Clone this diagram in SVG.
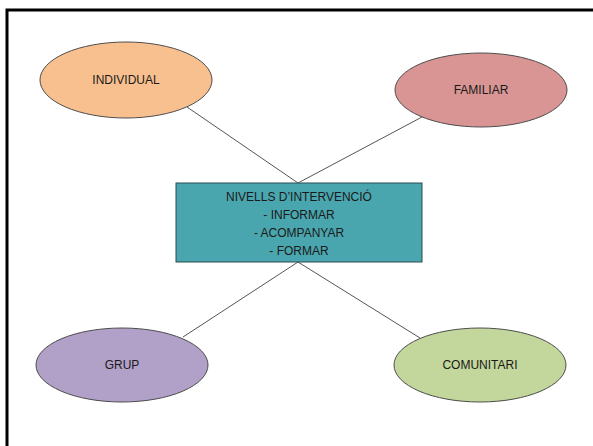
<svg xmlns="http://www.w3.org/2000/svg" width="593" height="446" viewBox="0 0 593 446">
<style>
.n{stroke:#4d4d4d;stroke-width:1}
.t{font-family:"Liberation Sans",Arial,sans-serif;font-size:12px;fill:#1a1a1a;text-anchor:middle;dominant-baseline:central}
.c{stroke:#555;stroke-width:1;fill:none}
</style>
<rect x="0" y="0" width="593" height="446" fill="#fff"/>
<path d="M7 446 V10 H593" fill="none" stroke="#000" stroke-width="3"/>
<g id="connectors">
<line class="c" x1="187" y1="107" x2="298" y2="183"/>
<line class="c" x1="422" y1="117" x2="298" y2="183"/>
<line class="c" x1="298" y1="262" x2="183" y2="337"/>
<line class="c" x1="298" y1="262" x2="420" y2="338"/>
</g>
<g id="individual">
<ellipse class="n" cx="126" cy="80" rx="86" ry="38" fill="#f9c08f"/>
<text class="t" x="126" y="80">INDIVIDUAL</text>
</g>
<g id="familiar">
<ellipse class="n" cx="481" cy="90" rx="86" ry="37" fill="#d99594"/>
<text class="t" x="481" y="90">FAMILIAR</text>
</g>
<g id="nivells">
<rect x="176" y="183" width="246" height="79" fill="#4aa6ae" stroke="#2b4b50" stroke-width="1"/>
<text class="t" x="299" y="197">NIVELLS D’INTERVENCIÓ</text>
<text class="t" x="299" y="215">- INFORMAR</text>
<text class="t" x="299" y="233">- ACOMPANYAR</text>
<text class="t" x="299" y="251">- FORMAR</text>
</g>
<g id="grup">
<ellipse class="n" cx="122" cy="365" rx="86" ry="37" fill="#b1a0c7"/>
<text class="t" x="122" y="365">GRUP</text>
</g>
<g id="comunitari">
<ellipse class="n" cx="480" cy="365" rx="86" ry="37" fill="#c3d69b"/>
<text class="t" x="480" y="365">COMUNITARI</text>
</g>
</svg>
